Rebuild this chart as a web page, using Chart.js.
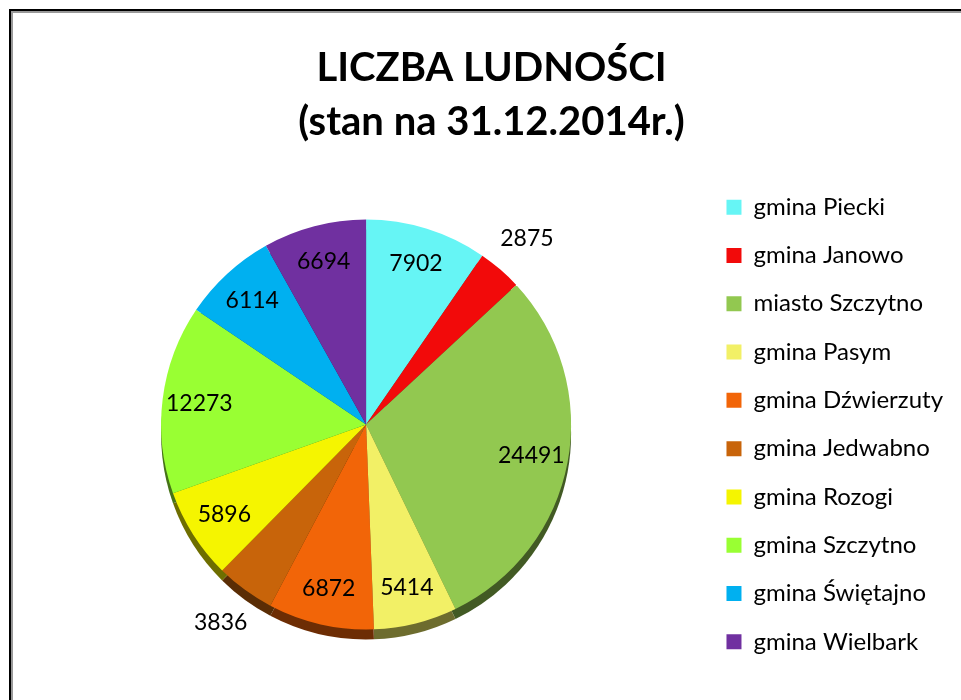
<!DOCTYPE html>
<html>
<head>
<meta charset="utf-8">
<script src="https://cdn.jsdelivr.net/npm/chart.js@4.4.0/dist/chart.umd.min.js"></script>
<style>
  body { margin: 0; background: #fff; }
  #wrap { position: relative; width: 961px; height: 700px; }
  #frame { position: absolute; left: 9px; top: 9px; right: 0; bottom: 0;
           border-left: 2px solid #000; border-top: 2px solid #000; }
  #frame2 { position: absolute; left: 0; top: 0; right: 0; bottom: 0;
            border-left: 2px solid #999; border-top: 2px solid #999; }
  canvas { position: absolute; left: 0; top: 0; }
</style>
</head>
<body>
<div id="wrap">
  <canvas id="c" width="961" height="700"></canvas>
  <div id="frame"><div id="frame2"></div></div>
</div>
<script>
// dane: liczba ludności gmin powiatu szczycieńskiego
var gminy = ['gmina Piecki', 'gmina Janowo', 'miasto Szczytno', 'gmina Pasym', 'gmina Dźwierzuty',
             'gmina Jedwabno', 'gmina Rozogi', 'gmina Szczytno', 'gmina Świętajno', 'gmina Wielbark'];
var ludnosc = [7902, 2875, 24491, 5414, 6872, 3836, 5896, 12273, 6114, 6694];
var kolory = ['#66F5F5', '#F20A0A', '#92C850', '#F2F066', '#F26508',
              '#C8640A', '#F5F500', '#99FF33', '#00B0F0', '#7030A0'];

function ciemniej(hex, f) {
  var n = parseInt(hex.slice(1), 16);
  var r = Math.round(((n >> 16) & 255) * f);
  var g = Math.round(((n >> 8) & 255) * f);
  var b = Math.round((n & 255) * f);
  return 'rgb(' + r + ',' + g + ',' + b + ')';
}

// dolna krawedz "3D" pod wycinkami
var krawedz = {
  id: 'krawedz',
  beforeDatasetsDraw: function (chart) {
    var ctx = chart.ctx;
    var meta = chart.getDatasetMeta(0);
    ctx.save();
    meta.data.forEach(function (arc, i) {
      var p = arc.getProps(['x', 'y', 'startAngle', 'endAngle', 'outerRadius'], true);
      ctx.beginPath();
      ctx.moveTo(p.x, p.y + 10);
      ctx.arc(p.x, p.y + 10, p.outerRadius, p.startAngle, p.endAngle);
      ctx.closePath();
      ctx.fillStyle = ciemniej(kolory[i], 0.45);
      ctx.fill();
    });
    ctx.restore();
  }
};

// etykiety z wartosciami
var etykiety = {
  id: 'etykiety',
  afterDatasetsDraw: function (chart) {
    var ctx = chart.ctx;
    var meta = chart.getDatasetMeta(0);
    var suma = ludnosc.reduce(function (a, b) { return a + b; }, 0);
    ctx.save();
    ctx.font = '23px Lato';
    ctx.fillStyle = '#000';
    ctx.textAlign = 'center';
    ctx.textBaseline = 'middle';
    meta.data.forEach(function (arc, i) {
      var p = arc.getProps(['x', 'y', 'startAngle', 'endAngle', 'outerRadius'], true);
      var mid = (p.startAngle + p.endAngle) / 2;
      var maly = ludnosc[i] / suma < 0.05;
      var r = p.outerRadius * (maly ? 1.2 : 0.82);
      ctx.fillText(String(ludnosc[i]), p.x + Math.cos(mid) * r, p.y + Math.sin(mid) * r);
    });
    ctx.restore();
  }
};

var chart = new Chart(document.getElementById('c'), {
  type: 'pie',
  data: {
    labels: gminy,
    datasets: [{
      data: ludnosc,
      backgroundColor: kolory,
      borderWidth: 0,
      radius: 205
    }]
  },
  options: {
    responsive: false,
    animation: false,
    layout: { padding: { left: 30, right: 8, top: 20, bottom: 0 } },
    plugins: {
      title: {
        display: true,
        text: ['LICZBA LUDNOŚCI', '(stan na 31.12.2014r.)'],
        color: '#000',
        font: { family: 'Lato', size: 40, weight: 'bold', lineHeight: 1.35 },
        padding: { top: 21, bottom: 0 }
      },
      legend: {
        position: 'right',
        fullSize: false,
        labels: {
          color: '#000',
          boxWidth: 15,
          boxHeight: 15,
          padding: 24.3,
          font: { family: 'Lato', size: 24 }
        }
      },
      tooltip: { enabled: false }
    }
  },
  plugins: [krawedz, etykiety]
});
</script>
</body>
</html>
